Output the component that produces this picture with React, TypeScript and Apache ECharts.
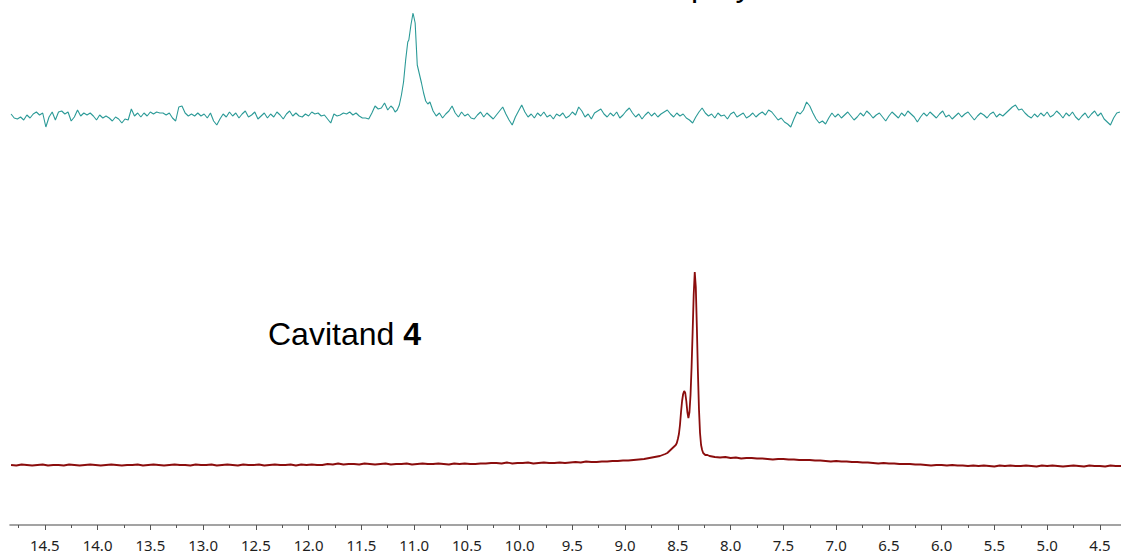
import React, { useEffect, useRef } from "react";
import * as echarts from "echarts";

// ---------- data (ppm axis, intensities) ----------
const topStep = 0.03;
const topLeftStart = 14.82;
const topLeft = [
  1, -3, -4, -2, -5, 0, -3, 1, 3, 0,
  2, -12, -2, 3, -5, 3, 4, 1, 3, -6,
  -2, 5, -1, 2, 0, 2, -1, -5, 0, -3,
  -1, -3, -6, -2, -4, -8, -4, -5, 6, -1,
  2, -2, 2, -1, 3, 1, 3, 2, 2, 0,
  2, -3, -6, 8, 9, 2, -1, 1, -1, 2,
  -1, 1, -3, 2, -6, -10, -4, 1, -2, 3,
  -1, 2, -3, 1, 4, -2, 0, 3, -4, -1,
  2, -3, 1, -2, 3, 0, -4, 1, 4, -1,
  2, -1, -2, 1, -1, 3, 1, 2, -1, 0,
  -4, -8, 1, -1, 0, 2, 1, 3, 0, 2,
  -1, -3, -3, -4, 2, 9, 6, 7, 12, 5, 9,
];
const topPeakPpm = [11.2, 11.18, 11.16, 11.14, 11.12, 11.1, 11.08, 11.06, 11.05, 11.03, 11.01, 10.99, 10.97, 10.95, 10.93, 10.91, 10.89, 10.87];
const topPeak = [7, 3, 5, 10, 20, 33, 55, 73, 75, 90, 102, 92, 50, 41, 32, 22, 14, 11];
const topRightStart = 10.85;
const topRight = [
  13, 4, -1, 2, -3, 1, 4, 9, 2, -2,
  3, -1, 1, -3, -4, 0, 3, -2, 2, -1,
  -4, 0, 4, 8, 1, -5, -10, -2, 4, 10,
  3, -2, 1, -3, 2, -1, 3, -2, 0, -4,
  1, -1, 2, -3, -1, 3, 0, 8, 4, -2,
  1, -4, 2, 4, 6, 1, -2, 2, -1, 3,
  -3, 0, 4, 7, 2, -2, 1, -4, 0, 3,
  -1, 2, -2, 1, 3, 5, 1, -2, 2, -1,
  1, -3, -5, -8, -2, 3, 7, 2, -1, 1,
  -3, 2, -1, 0, -4, 1, 3, -2, 0, 2,
  -3, -1, 2, -2, 1, 3, 0, 5, 3, -1,
  -5, -3, -7, -9, -12, -4, 3, 1, 5, 13,
  9, 2, -4, -8, -6, -9, -3, 2, -2, 1,
  -3, 0, 3, -1, -5, -2, 2, -1, 4, 1,
  -3, 0, 2, -2, -6, -1, 3, 0, -3, 2,
  -1, 4, 1, -2, -7, -2, 2, -1, 3, 0,
  -3, 1, 4, -2, 0, -4, -1, 2, -2, 1,
  3, -1, -5, -1, 2, 0, -3, 1, 3, -2,
  1, -1, 2, 5, 8, 10, 5, 6, 2, -1,
  -3, 1, -2, 2, -1, 3, -2, 0, 4, 1,
  -3, 2, -1, 3, -2, -5, -1, 2, -3, 1,
  4, -1, 2, -4, -7, -10, -3, 2, 3,
];

const bottomStep = 0.05;
const bottomLeftStart = 14.82;
const bottomLeft = [
  2, 1.5, 2.5, 2, 1.5, 2, 2.5, 1.5, 2, 2,
  1.5, 2.5, 2, 1.5, 2, 2.5, 2, 1.5, 2, 2.5,
  2, 1.5, 2, 2, 2.5, 1.5, 2, 2.5, 2, 1.5,
  2, 2.5, 2, 2, 1.5, 2.5, 2, 2, 2.5, 1.5,
  2, 2.5, 2, 1.5, 2.5, 2, 2, 2.5, 1.5, 2,
  2.5, 2, 2, 2.5, 1.5, 2.5, 2, 2.5, 2, 2,
  3, 2.5, 3.5, 2.5, 3, 3, 2.5, 3.5, 3, 2.5,
  3, 3.5, 2.5, 3, 3, 3.5, 2.5, 3, 3.5, 3,
  3, 3.5, 3, 2.5, 3.5, 3, 3.5, 3, 3, 3.5,
  3.5, 4, 4, 3.5, 4.5, 3.5, 4, 4, 4.5, 3.5,
  4, 4.5, 4, 4, 4.5, 4, 4.5, 5, 4.5, 5.5,
  5, 5, 5.5, 5.5, 6, 6, 6.5, 6.5, 7, 7.5,
  8, 9, 10, 11, 13,
];
const bottomPeakPpm = [
  8.6, 8.59, 8.58, 8.57, 8.56, 8.55, 8.54, 8.53, 8.52, 8.51,
  8.5, 8.49, 8.48, 8.47, 8.46, 8.45, 8.44, 8.43, 8.42, 8.41,
  8.4, 8.39, 8.38, 8.37, 8.36, 8.35, 8.34, 8.33, 8.32, 8.31,
  8.3, 8.29, 8.28, 8.27, 8.26, 8.25, 8.24, 8.22, 8.2,
];
const bottomPeak = [
  14, 15, 16, 17, 18, 19, 20, 21, 22, 24,
  28, 33, 42, 55, 66, 73, 76, 74, 66, 55,
  49, 55, 72, 100, 135, 172, 195, 180, 140, 95,
  58, 34, 22, 17, 14, 13, 12, 12, 11,
];
const bottomRightStart = 8.15;
const bottomRight = [
  10, 9.5, 10, 9, 9.5, 8.5, 9, 9, 8.5, 8.5,
  8, 7.5, 8, 8, 7.5, 7.5, 7, 7, 7, 6.5,
  6.5, 6, 5.5, 6, 5.5, 5.5, 5, 5, 4.5, 4.5,
  4, 3.5, 4, 3.5, 3.5, 3, 3, 3, 2.5, 2.5,
  2, 1.5, 2, 2, 1.5, 2, 1.5, 1.5, 1, 1.5,
  1, 1.5, 1, 0.5, 1.5, 1, 1.5, 1, 1, 1.5,
  1, 0.5, 1.5, 1, 1.5, 1, 0.5, 1, 1.5, 1,
  0.5, 1.5, 1, 1, 0.5, 1.5, 1, 1,
];

const majorTicks = [14.5, 14.0, 13.5, 13.0, 12.5, 12.0, 11.5, 11.0, 10.5, 10.0, 9.5, 9.0, 8.5, 8.0, 7.5, 7.0, 6.5, 6.0, 5.5, 5.0, 4.5];
const minorTicks = [14.75, 14.25, 13.75, 13.25, 12.75, 12.25, 11.75, 11.25, 10.75, 10.25, 9.75, 9.25, 8.75, 8.25, 7.75, 7.25, 6.75, 6.25, 5.75, 5.25, 4.75];

const labelTopHead = "Cavitand ";
const labelTopBold = "4";
const labelTopPlus = " + ";
const labelTopRest = "p-xylene";
const labelBottom = "Cavitand ";
const labelBottomBold = "4";

const PPM_MIN = 4.3;
const PPM_MAX = 14.83;

function seg(start: number, step: number, vals: number[]) {
  return vals.map((v, i) => [+(start - i * step).toFixed(3), v]);
}
function pairs(ppm: number[], vals: number[]) {
  return ppm.map((p, i) => [p, vals[i]]);
}

export default function App() {
  const ref = useRef<HTMLDivElement>(null);
  useEffect(() => {
    document.body.style.margin = "0";
    if (!ref.current) return;
    const chart = echarts.init(ref.current, undefined, { renderer: "svg" });
    const topData = [
      ...seg(topLeftStart, topStep, topLeft),
      ...pairs(topPeakPpm, topPeak),
      ...seg(topRightStart, topStep, topRight),
    ];
    const bottomData = [
      ...seg(bottomLeftStart, bottomStep, bottomLeft),
      ...pairs(bottomPeakPpm, bottomPeak),
      ...seg(bottomRightStart, bottomStep, bottomRight),
    ];
    const font = "Liberation Sans, Arial, sans-serif";
    const rich = {
      a: { fontFamily: font, fontSize: 32, color: "#000" },
      b: { fontFamily: font, fontSize: 32, fontWeight: "bold", color: "#000" },
    };
    chart.setOption({
      animation: false,
      backgroundColor: "#ffffff",
      grid: [
        { left: 10, right: 0, top: 13, bottom: 421, outerBoundsMode: "none" },
        { left: 10, right: 0, top: 272, bottom: 31, outerBoundsMode: "none" },
      ],
      xAxis: [
        { gridIndex: 0, type: "value", min: PPM_MIN, max: PPM_MAX, inverse: true, show: false },
        {
          gridIndex: 1, type: "value", min: PPM_MIN, max: PPM_MAX, inverse: true, position: "bottom",
          axisLine: { show: true, onZero: false, lineStyle: { color: "#858585", width: 1.6 } },
          axisTick: { show: true, customValues: majorTicks, length: 5, lineStyle: { color: "#555555", width: 1 } },
          axisLabel: {
            show: true, customValues: majorTicks, formatter: (v: number) => v.toFixed(1),
            fontFamily: "Noto Sans", fontSize: 15, color: "#1e1e1e", margin: 12,
          },
          splitLine: { show: false },
        },
        {
          gridIndex: 1, type: "value", min: PPM_MIN, max: PPM_MAX, inverse: true, position: "bottom",
          axisLine: { show: false, onZero: false },
          axisTick: { show: true, customValues: minorTicks, length: 3, lineStyle: { color: "#555555", width: 1 } },
          axisLabel: { show: false },
          splitLine: { show: false },
        },
      ],
      yAxis: [
        { gridIndex: 0, type: "value", min: -20, max: 102, show: false },
        { gridIndex: 1, type: "value", min: -58, max: 195, show: false },
      ],
      series: [
        {
          type: "line", xAxisIndex: 0, yAxisIndex: 0, data: topData, symbol: "none",
          lineStyle: { color: "#2b9a97", width: 1.1 }, itemStyle: { color: "#2b9a97" },
        },
        {
          type: "line", xAxisIndex: 1, yAxisIndex: 1, data: bottomData, symbol: "none",
          lineStyle: { color: "#8b0d0d", width: 1.8 }, itemStyle: { color: "#8b0d0d" },
        },
      ],
      graphic: [
        {
          type: "text", x: 691, y: -15,
          style: {
            text: `{a|${labelTopHead}}{b|${labelTopBold}}{a|${labelTopPlus}}`,
            textAlign: "right", textVerticalAlign: "middle", fill: "#000", rich,
          },
          silent: true,
        },
        {
          type: "text", x: 691, y: -15,
          style: {
            text: labelTopRest, textAlign: "left", textVerticalAlign: "middle",
            fill: "#000", font: `32px ${font}`,
          },
          silent: true,
        },
        {
          type: "text", x: 268, y: 334,
          style: {
            text: `{a|${labelBottom}}{b|${labelBottomBold}}`,
            textAlign: "left", textVerticalAlign: "middle", fill: "#000", rich,
          },
          silent: true,
        },
      ],
    });
    return () => chart.dispose();
  }, []);
  return <div ref={ref} style={{ width: 1121, height: 556 }} />;
}
